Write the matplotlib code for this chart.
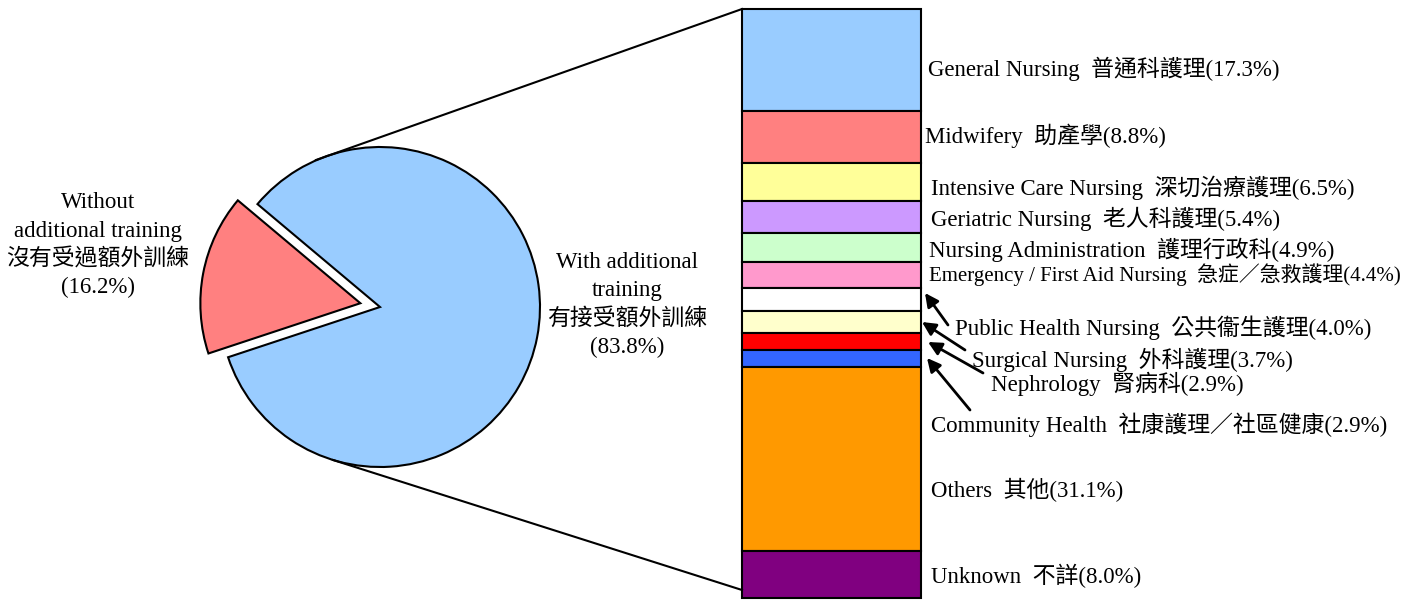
import matplotlib.pyplot as plt
import numpy as np

# pie data
pie_labels = [['With additional', 'training', '有接受額外訓練', '(83.8%)'],
              ['Without', 'additional training', '沒有受過額外訓練', '(16.2%)']]
pie_vals = [83.8, 16.2]
pie_colors = ['#99CCFF', '#FF8080']

# breakdown of "with additional training" (top to bottom)
cats = ['General Nursing  普通科護理', 'Midwifery  助產學', 'Intensive Care Nursing  深切治療護理',
        'Geriatric Nursing  老人科護理', 'Nursing Administration  護理行政科',
        'Emergency / First Aid Nursing  急症／急救護理', 'Public Health Nursing  公共衞生護理',
        'Surgical Nursing  外科護理', 'Nephrology  腎病科', 'Community Health  社康護理／社區健康',
        'Others  其他', 'Unknown  不詳']
pcts = [17.3, 8.8, 6.5, 5.4, 4.9, 4.4, 4.0, 3.7, 2.9, 2.9, 31.1, 8.0]
bar_colors = ['#99CCFF', '#FF8080', '#FFFF99', '#CC99FF', '#CCFFCC', '#FF99CC',
              '#FFFFFF', '#FFFFCC', '#FF0000', '#3366FF', '#FF9900', '#800080']

FONT = ['Liberation Serif', 'Noto Sans CJK TC']
plt.rcParams['font.family'] = FONT

W, H = 1417, 600
fig = plt.figure(figsize=(W / 100, H / 100), dpi=100)
ax = fig.add_axes([0, 0, 1, 1])

def py(y):
    # pixel row -> data y
    return H - y

# pie
cx, cy, r = 380, py(307), 160
ax.pie(pie_vals, colors=pie_colors, startangle=198.3, counterclock=True,
       explode=[0, 20], center=(cx, cy), radius=r,
       wedgeprops=dict(edgecolor='black', linewidth=1.5), frame=True)
ax.set_xlim(0, W)
ax.set_ylim(0, H)
ax.set_aspect('equal')
ax.axis('off')

fs = 16.5
for i, line in enumerate(pie_labels[0]):
    ax.text(627, py(262 + 28.5 * i), line, ha='center', va='center', fontsize=fs)
for i, line in enumerate(pie_labels[1]):
    ax.text(98, py(203 + 28.3 * i), line, ha='center', va='center', fontsize=fs)

# stacked bar
bx0, bx1 = 742, 921
top, bottom = 9, 598
scale = (bottom - top) / sum(pcts)
heights = np.array(pcts) * scale
bottoms = py(bottom) + np.concatenate([np.cumsum(heights[::-1])[::-1][1:], [0]])
ax.bar((bx0 + bx1) / 2, heights, width=bx1 - bx0, bottom=bottoms,
       color=bar_colors, edgecolor='black', linewidth=1.5)

# connector lines
ax.plot([316, bx0], [py(160), py(top)], color='black', lw=1.5)
ax.plot([333, bx0], [py(460), py(bottom - 8)], color='black', lw=1.5)

# labels
label_pos = [(928, 69), (925, 136), (931, 188), (931, 219), (929, 250), (929, 275),
             (955, 328), (972, 360), (991, 384), (931, 425), (931, 490), (931, 576)]
for name, p, (lx, ly) in zip(cats, pcts, label_pos):
    size = 15 if name.startswith('Emergency') else fs
    ax.text(lx, py(ly), f'{name}({p:.1f}%)', ha='left', va='center', fontsize=size)

# arrows for the small segments
arrows = [((948, 325), (925, 293)), ((965, 350), (922, 322)),
          ((983, 373), (928, 342)), ((970, 410), (927, 358))]
for (tx, ty), (hx, hy) in arrows:
    ax.annotate('', xy=(hx, py(hy)), xytext=(tx, py(ty)),
                arrowprops=dict(arrowstyle='-|>', color='black', lw=2,
                                mutation_scale=20, shrinkA=0, shrinkB=0))

fig.savefig('out.png', dpi=100)
